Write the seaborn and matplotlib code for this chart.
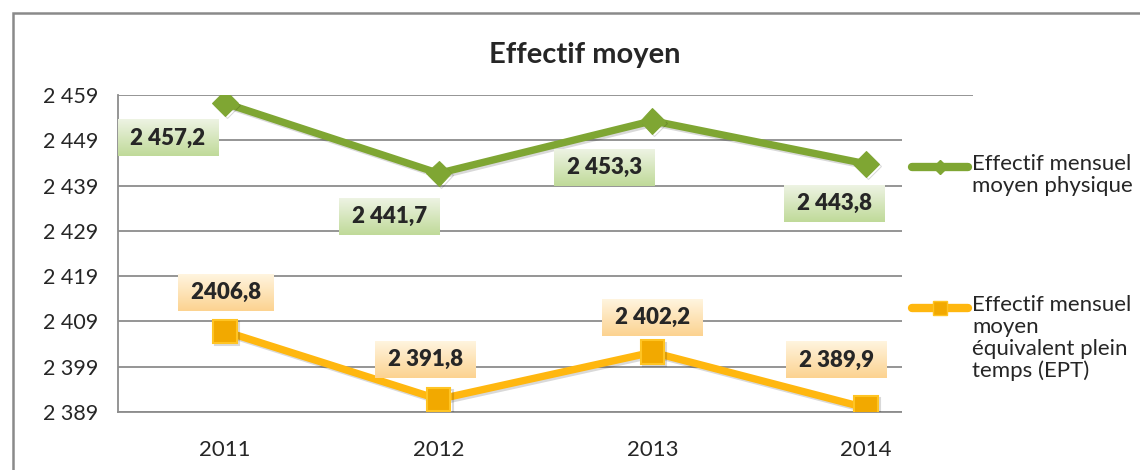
import numpy as np
import pandas as pd
import matplotlib.pyplot as plt
import matplotlib.patheffects as pe
from matplotlib.lines import Line2D
from matplotlib.patches import Rectangle
from matplotlib.ticker import FixedLocator
import seaborn as sns

# données
annees = ['2011', '2012', '2013', '2014']
physique = [2457.2, 2441.7, 2453.3, 2443.8]
ept = [2406.8, 2391.8, 2402.2, 2389.9]
etiq_physique = ['2 457,2', '2 441,7', '2 453,3', '2 443,8']
etiq_ept = ['2406,8', '2 391,8', '2 402,2', '2 389,9']
serie_physique = 'Effectif mensuel\nmoyen physique'
serie_ept = 'Effectif mensuel\nmoyen\néquivalent plein\ntemps (EPT)'
graduations = [2389, 2399, 2409, 2419, 2429, 2439, 2449, 2459]

df = pd.DataFrame({
    'annee': annees * 2,
    'valeur': physique + ept,
    'serie': [serie_physique] * 4 + [serie_ept] * 4,
})

sns.set_style('white')
plt.rcParams['font.family'] = ['Lato', 'DejaVu Sans']

VERT = '#7FA633'
ORANGE = '#FFB70F'
GRIS = '#8C8C8C'

fig = plt.figure(figsize=(11.4, 4.7), dpi=100)
ax = fig.add_axes([118/1140, 1-412/470, 855/1140, 317/470])

ombre = [pe.SimpleLineShadow(offset=(1.5, -1.5), shadow_color='black', alpha=0.15), pe.Normal()]

sns.lineplot(data=df[df.serie == serie_physique], x='annee', y='valeur', ax=ax,
             color=VERT, linewidth=5.3, marker='D', markersize=13,
             markeredgecolor=VERT, legend=False, zorder=3, path_effects=ombre)
sns.lineplot(data=df[df.serie == serie_ept], x='annee', y='valeur', ax=ax,
             color=ORANGE, linewidth=5.3, marker='s', markersize=17,
             markerfacecolor='#F2A900', markeredgecolor='#FFC423', markeredgewidth=1.5,
             legend=False, zorder=3, path_effects=ombre)

ax.set_xlim(-0.5, 3.5)
ax.set_ylim(2389, 2459)
ax.yaxis.set_major_locator(FixedLocator(graduations))
ax.set_yticklabels([f'{v:,}'.replace(',', ' ') for v in graduations])
ax.xaxis.set_minor_locator(FixedLocator([-0.5, 0.5, 1.5, 2.5, 3.5]))
ax.tick_params(axis='x', which='major', length=0, pad=20, labelsize=16)
ax.tick_params(axis='x', which='minor', length=7, width=1.2, color=GRIS, direction='out')
ax.tick_params(axis='y', which='major', length=6, width=1.2, color=GRIS, direction='out',
               pad=8, labelsize=15.5)
ax.grid(axis='y', color=GRIS, linewidth=1.3)
ax.set_axisbelow(True)
for s in ['top', 'right']:
    ax.spines[s].set_visible(False)
for s in ['left', 'bottom']:
    ax.spines[s].set_color(GRIS)
    ax.spines[s].set_linewidth(1.3)
ax.set_xlabel('')
ax.set_ylabel('')

# étiquettes de données
decal_vert = [(-57, -35), (-49, -43), (-48, -47), (-32, -40)]
decal_orange = [(1, 39), (-13, 40), (0, 35), (-30, 48)]
annots = []
for i, (v, t) in enumerate(zip(physique, etiq_physique)):
    a = ax.annotate(' ' + t + ' ', (i, v), xytext=decal_vert[i], textcoords='offset pixels',
                    ha='center', va='center', fontsize=16, fontweight='heavy', zorder=6,
                    bbox=dict(boxstyle='square,pad=0.35', fc='#D6E7C0', ec='none'))
    annots.append((a, '#EDF3E2', '#C0DA9A'))
for i, (v, t) in enumerate(zip(ept, etiq_ept)):
    a = ax.annotate(' ' + t + ' ', (i, v), xytext=decal_orange[i], textcoords='offset pixels',
                    ha='center', va='center', fontsize=16, fontweight='heavy', zorder=6,
                    bbox=dict(boxstyle='square,pad=0.35', fc='#FEE3B8', ec='none'))
    annots.append((a, '#FFF4DE', '#FCD391'))

# dégradé dans les cadres
fig.canvas.draw()
r = fig.canvas.get_renderer()
inv = ax.transData.inverted()
for a, c_haut, c_bas in annots:
    p = a.get_bbox_patch()
    bb = p.get_window_extent(r)
    (x0, y0), (x1, y1) = inv.transform([[bb.x0, bb.y0], [bb.x1, bb.y1]])
    h = np.array(plt.matplotlib.colors.to_rgb(c_haut))
    b = np.array(plt.matplotlib.colors.to_rgb(c_bas))
    grad = np.linspace(h, b, 32).reshape(32, 1, 3)
    ax.imshow(grad, extent=[x0, x1, y0, y1], aspect='auto', zorder=5, interpolation='bilinear')
    p.set_facecolor('none')
ax.set_xlim(-0.5, 3.5)
ax.set_ylim(2389, 2459)

# titre
fig.text(585/1140, 1-55/470, 'Effectif moyen', ha='center', va='center',
         fontsize=21, fontweight='bold')

# cadre extérieur
fig.add_artist(Rectangle((13/1140, -0.2), 1.2, 1.2 - 13/470, transform=fig.transFigure,
                         fill=False, ec='#8A8A8A', lw=1.8, zorder=0))

# légende
fig.add_artist(Rectangle((902/1140, 1-428/470), 1.0, 328/470, transform=fig.transFigure,
                         fc='white', ec='none', zorder=1))
fig.add_artist(Line2D([912/1140, 968/1140], [1-167/470] * 2, transform=fig.transFigure,
                      color=VERT, lw=6, solid_capstyle='round', zorder=2))
fig.add_artist(Line2D([940/1140], [1-167/470], transform=fig.transFigure, color=VERT,
                      marker='D', markersize=7, zorder=2))
fig.add_artist(Line2D([912/1140, 968/1140], [1-308/470] * 2, transform=fig.transFigure,
                      color=ORANGE, lw=6, solid_capstyle='round', zorder=2))
fig.add_artist(Line2D([940/1140], [1-308/470], transform=fig.transFigure, color='#F2A900',
                      marker='s', markersize=10, markeredgecolor='#FFC423', zorder=2))
fig.text(972/1140, 1-154/470, serie_physique, ha='left', va='top', fontsize=16,
         linespacing=1.12, zorder=3)
fig.text(972/1140, 1-295/470, serie_ept, ha='left', va='top', fontsize=16,
         linespacing=1.12, zorder=3)

fig.savefig('out.png', dpi=100)
